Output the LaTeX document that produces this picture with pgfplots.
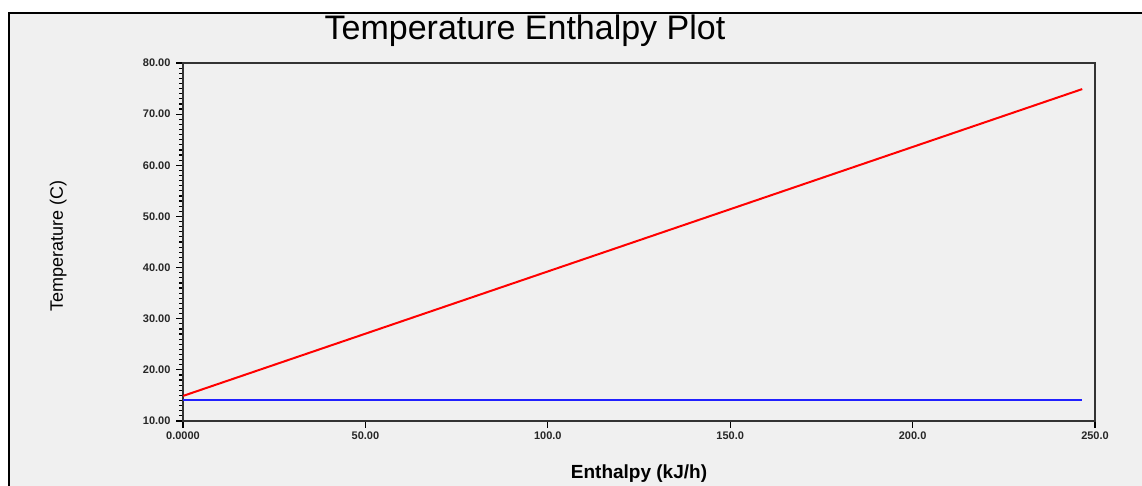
\documentclass[border=0pt]{standalone}
\usepackage{fontspec}
\setmainfont{Liberation Sans}
\usepackage{pgfplots}
\pgfplotsset{compat=1.18}
\definecolor{panel}{HTML}{F0F0F0}
\definecolor{lineblue}{HTML}{2020FF}

\begin{document}
\begin{tikzpicture}
% page = 1142 x 486 px, 1pt per px
\path[use as bounding box] (0,0) rectangle (1142pt,486pt);
\fill[white] (0,0) rectangle (1142pt,486pt);
\fill[panel] (8pt,0) rectangle (1142pt,474pt);
\draw[black, line width=2pt] (9pt,0) -- (9pt,473pt) -- (1142pt,473pt);

\begin{axis}[
    at={(183pt,65pt)}, anchor=south west,
    scale only axis,
    width=912pt, height=358pt,
    xmin=0, xmax=250,
    ymin=10, ymax=80,
    axis line style={black!80, line width=1.6pt},
    tick align=outside,
    xtick pos=left, ytick pos=left,
    xtick={0,50,100,150,200,250},
    xticklabels={0.0000,50.00,100.0,150.0,200.0,250.0},
    ytick={10,20,...,80},
    minor y tick num=9,
    major tick length=7pt, minor tick length=4pt,
    every tick/.style={black, line width=1.2pt},
    /pgf/number format/assume math mode=true,
    yticklabel={\pgfmathprintnumber[fixed,fixed zerofill,precision=2]{\tick}},
    ticklabel style={font=\fontsize{11}{12}\selectfont\bfseries, text=black!85},
    yticklabel style={xshift=-2pt},
    title={Temperature Enthalpy Plot},
    title style={at={(axis description cs:0.375,1)}, anchor=base, yshift=18pt,
        font=\fontsize{34}{40}\selectfont},
    xlabel={Enthalpy (kJ/h)},
    xlabel style={at={(axis description cs:0.5,0)}, anchor=base, yshift=-58pt,
        font=\fontsize{19}{22}\selectfont\bfseries},
    ylabel={Temperature (C)},
    ylabel style={at={(axis description cs:-0.1316,0.49)}, anchor=base,
        font=\fontsize{18}{21}\selectfont},
]
\addplot[red, line width=2pt] coordinates {(0,14.9) (246.5,74.9)};
\addplot[lineblue, line width=2pt] coordinates {(0,14.1) (246.5,14.1)};
\end{axis}
\end{tikzpicture}
\end{document}
